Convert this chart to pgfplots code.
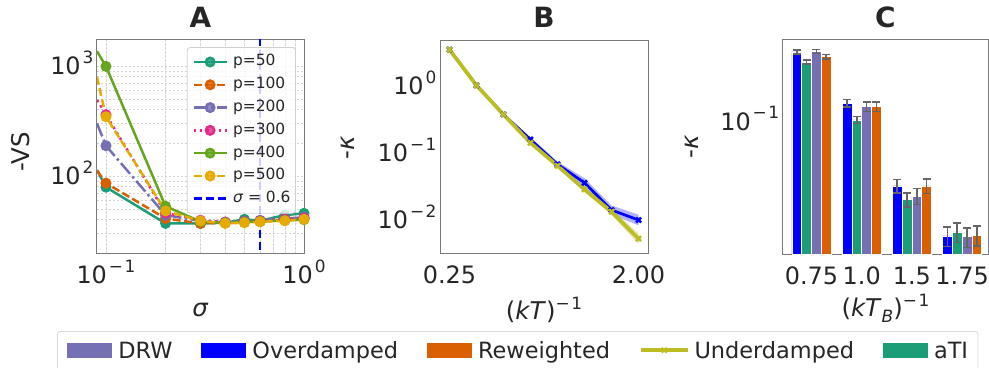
\documentclass[border=0pt]{standalone}
\usepackage{fontspec}
\setmainfont{DejaVu Sans}
\usepackage{pgfplots}
\pgfplotsset{compat=1.18}
\definecolor{cteal}{HTML}{1B9E77}
\definecolor{corange}{HTML}{D95F02}
\definecolor{cpurple}{HTML}{7570B3}
\definecolor{cpink}{HTML}{E7298A}
\definecolor{cgreen}{HTML}{66A61E}
\definecolor{cyellow}{HTML}{E6AB02}
\definecolor{colive}{HTML}{BCBD22}
\definecolor{cblue}{HTML}{0000FF}
\definecolor{ctext}{HTML}{262626}
\definecolor{cspine}{HTML}{7A7A7A}
\definecolor{cerr}{HTML}{656565}
\definecolor{cgrid}{HTML}{D4D4D4}
\newcommand\tp[1]{10\hspace{2bp}\raisebox{11.5bp}{\fontsize{17}{17}\selectfont #1}}
\newcommand\mo{−\hspace{1.5bp}}
\newcommand\legpatch[1]{\textcolor{#1}{\rule[0.6bp]{45bp}{15.2bp}}\hspace{6bp}}
\pgfplotsset{
  panel/.style={
    scale only axis, anchor=south west,
    axis line style={cspine, line width=1bp},
    tick style={draw=none},
    tick label style={font=\fontsize{24}{24}\selectfont, text=ctext},
    xticklabel style={anchor=base, yshift=-30bp},
    yticklabel style={anchor=base east, yshift=-8.75bp},
    label style={font=\fontsize{24.5}{24.5}\selectfont, text=ctext},
    title style={font=\fontsize{28}{28}\selectfont\bfseries, text=ctext, at={(0.5,1)}, anchor=base, yshift=6.7bp},
  },
  errbar/.style={draw=none, mark=none, forget plot,
    error bars/y dir=both, error bars/y explicit,
    error bars/error bar style={draw=cerr, line width=1.5bp},
    error bars/error mark options={draw=cerr, line width=1.5bp, mark size=4bp, rotate=90}},
  bars/.style={ybar, bar width=0.195, draw=white, line width=0.7bp},
}
\begin{document}
\begin{tikzpicture}
\useasboundingbox (0,0) rectangle (989bp,368bp);
% ---------------- Panel A ----------------
\begin{axis}[panel,
  at={(97bp,114bp)}, width=207bp, height=214bp,
  title={A},
  xmode=log, ymode=log,
  xmin=0.0901, xmax=1.0, ymin=19.5, ymax=1720,
  xtick={0.1,1}, xticklabels={\tp{\mo1},\tp{0}},
  ytick={100,1000}, yticklabels={\tp{2},\tp{3}},
  minor xtick={0.2,0.3,0.4,0.5,0.6,0.7,0.8,0.9},
  minor ytick={20,30,40,50,60,70,80,90,200,300,400,500,600,700,800,900},
  grid=both,
  major grid style={draw=cgrid, line width=0.6bp, dash pattern=on 2.5bp off 1.5bp},
  minor grid style={draw=cgrid, line width=0.5bp, dash pattern=on 2.5bp off 1.5bp},
  xlabel={\textit{σ}}, ylabel={-VS},
  xlabel style={at={(axis description cs:0.5,-0.290)}, anchor=base},
  ylabel style={at={(axis description cs:-0.367,0.477)}, anchor=center},
  legend image code/.code={\draw[#1, mark repeat=2, mark phase=2] plot coordinates {(0bp,0bp) (16.5bp,0bp) (33bp,0bp)};},
  legend style={at={(0.961,0.967)}, anchor=north east, font=\fontsize{15.5}{15.5}\selectfont,
    fill=white, fill opacity=0.8, text opacity=1, draw=black!18, draw opacity=1, line width=0.8bp,
    rounded corners=3bp, inner xsep=5bp, inner ysep=7.5bp, row sep=8.8bp,
    nodes={inner sep=0pt, text height=11bp, text depth=3bp, text=ctext},
    /tikz/every odd column/.style={column sep=5bp}},
  legend cell align=left,
  every axis plot/.append style={line width=2.5bp, mark=*, mark size=4.2bp, mark phase=2, mark repeat=1},
]
\addplot[cteal, mark options={solid, fill=cteal}] coordinates {
(0.0901,113) (0.1,79) (0.2,37) (0.3,37) (0.4,37.5) (0.5,40.3) (0.6,39.1) (0.8,44.0) (1.0,45.7)};
\addlegendentry{p=50}
\addplot[corange, dash pattern=on 8bp off 3.5bp, mark options={solid, fill=corange}] coordinates {
(0.0901,112) (0.1,86) (0.2,41) (0.3,37) (0.4,37.5) (0.5,38) (0.6,38.5) (0.8,40) (1.0,41)};
\addlegendentry{p=100}
\addplot[cpurple, dash pattern=on 14bp off 3.5bp on 2.5bp off 3.5bp, mark options={solid, fill=cpurple}] coordinates {
(0.0901,300) (0.1,188) (0.2,44) (0.3,39) (0.4,38) (0.5,38.5) (0.6,39.5) (0.8,41) (1.0,42)};
\addlegendentry{p=200}
\addplot[cpink, dash pattern=on 2.5bp off 3.8bp, mark options={solid, fill=cpink}] coordinates {
(0.0901,490) (0.1,360) (0.2,46) (0.3,39.5) (0.4,38) (0.5,38.5) (0.6,39) (0.8,40.5) (1.0,41.5)};
\addlegendentry{p=300}
\addplot[cgreen, mark options={solid, fill=cgreen}] coordinates {
(0.0901,1360) (0.1,990) (0.2,53) (0.3,38.5) (0.4,37.5) (0.5,38) (0.6,38.5) (0.8,39.5) (1.0,40)};
\addlegendentry{p=400}
\addplot[cyellow, dash pattern=on 8bp off 3.5bp, mark options={solid, fill=cyellow}] coordinates {
(0.0901,795) (0.1,345) (0.2,48) (0.3,39) (0.4,37) (0.5,37.5) (0.6,38.3) (0.8,39) (1.0,40.3)};
\addlegendentry{p=500}
\addplot[cblue, line width=2.8bp, dash pattern=on 8bp off 4bp, mark=none] coordinates {(0.6,10) (0.6,5000)};
\addlegendentry{\textit{σ} = 0.6}
\end{axis}
% ---------------- Panel B ----------------
\begin{axis}[panel,
  at={(440bp,114.7bp)}, width=208bp, height=213bp,
  title={B},
  ymode=log,
  xmin=0.1625, xmax=2.0875, ymin=0.00318, ymax=4.86,
  xtick={0.25,2}, xticklabels={0.25,2.00},
  ytick={0.01,0.1,1}, yticklabels={\tp{\mo2},\tp{\mo1},\tp{0}},
  xlabel={(\textit{kT})\raisebox{0.42em}{\fontsize{17}{17}\selectfont\mo1}}, ylabel={-\textit{κ}},
  xlabel style={at={(axis description cs:0.5,-0.313)}, anchor=base},
  ylabel style={at={(axis description cs:-0.442,0.494)}, anchor=center},
]
\addplot[draw=none, fill=cblue, fill opacity=0.3, forget plot] coordinates {
(0.25,3.71) (0.5,1.08) (0.75,0.397) (1.0,0.171) (1.25,0.0748) (1.5,0.0421) (1.75,0.0165) (2.0,0.0120)
(2.0,0.00833) (1.75,0.0121) (1.5,0.0308) (1.25,0.0618) (1.0,0.150) (0.75,0.360) (0.5,0.98) (0.25,3.36)};
\addplot[draw=none, fill=colive, fill opacity=0.35, forget plot] coordinates {
(0.25,3.71) (0.5,1.08) (0.75,0.397) (1.0,0.150) (1.25,0.0690) (1.5,0.0316) (1.75,0.0149) (2.0,0.0063)
(2.0,0.00438) (1.75,0.0119) (1.5,0.0261) (1.25,0.0605) (1.0,0.135) (0.75,0.360) (0.5,0.98) (0.25,3.36)};
\addplot[cblue, line width=2.7bp, mark=x, mark size=3.5bp, mark options={line width=2.5bp}] coordinates {
(0.25,3.53) (0.5,1.03) (0.75,0.378) (1.0,0.160) (1.25,0.068) (1.5,0.0360) (1.75,0.0141) (2.0,0.0100)};
\addplot[colive, line width=3.7bp, mark=x, mark size=3.5bp, mark options={line width=2.5bp}] coordinates {
(0.25,3.53) (0.5,1.03) (0.75,0.378) (1.0,0.1425) (1.25,0.0646) (1.5,0.0287) (1.75,0.0133) (2.0,0.00526)};
\end{axis}
% ---------------- Panel C ----------------
\begin{axis}[panel,
  at={(782.7bp,113.7bp)}, width=205.5bp, height=214.6bp,
  title={C},
  ymode=log, log origin=infty,
  xmin=-0.574, xmax=3.52, ymin=0.0102, ymax=0.41,
  xtick={0,1,2,3}, xticklabels={0.75,1.0,1.5,1.75},
  ytick={0.1}, yticklabels={\tp{\mo1}},
  xlabel={(\textit{kT}\raisebox{-0.22em}{\fontsize{17}{17}\selectfont\textit{B}})\raisebox{0.42em}{\fontsize{17}{17}\selectfont\mo1}},
  ylabel={-\textit{κ}},
  xlabel style={at={(axis description cs:0.5,-0.291)}, anchor=base},
  ylabel style={at={(axis description cs:-0.441,0.5)}, anchor=center},
]
% Overdamped, aTI, DRW, Reweighted
\addplot[bars, fill=cblue, bar shift=-0.2925] coordinates {(0,0.332) (1,0.1377) (2,0.0331) (3,0.0140)};
\addplot[bars, fill=cteal, bar shift=-0.0975] coordinates {(0,0.279) (1,0.1031) (2,0.0262) (3,0.0150)};
\addplot[bars, fill=cpurple, bar shift=0.0975] coordinates {(0,0.335) (1,0.1297) (2,0.0278) (3,0.0138)};
\addplot[bars, fill=corange, bar shift=0.2925] coordinates {(0,0.306) (1,0.1297) (2,0.0331) (3,0.0142)};
\addplot[errbar] coordinates {
(-0.2925,0.332) +- (0,0.0116) (0.7075,0.1377) +- (0,0.0085) (1.7075,0.0331) +- (0,0.0038) (2.7075,0.0140) +- (0,0.0023)};
\addplot[errbar] coordinates {
(-0.0975,0.279) +- (0,0.0098) (0.9025,0.1031) +- (0,0.0064) (1.9025,0.0262) +- (0,0.0032) (2.9025,0.0150) +- (0,0.0025)};
\addplot[errbar] coordinates {
(0.0975,0.335) +- (0,0.0116) (1.0975,0.1297) +- (0,0.0105) (2.0975,0.0278) +- (0,0.0038) (3.0975,0.0138) +- (0,0.0023)};
\addplot[errbar] coordinates {
(0.2925,0.306) +- (0,0.0107) (1.2925,0.1297) +- (0,0.0105) (2.2925,0.0331) +- (0,0.0041) (3.2925,0.0142) +- (0,0.0024)};
\end{axis}
% ---------------- Shared legend ----------------
\begin{axis}[
  at={(57bp,37bp)}, anchor=south west, scale only axis, width=10bp, height=10bp,
  hide axis, xmin=0, xmax=1, ymin=0, ymax=1,
  legend columns=5,
  legend image code/.code={},
  legend style={at={(0,0)}, anchor=north west, font=\fontsize{22.5}{22.5}\selectfont,
    fill=white, draw=black!15, line width=0.8bp, rounded corners=3bp,
    inner xsep=10bp, inner ysep=10bp,
    nodes={inner sep=0pt, text height=17bp, text depth=5bp, text=ctext},
    /tikz/every odd column/.style={column sep=0bp},
    /tikz/every even column/.style={column sep=29bp}},
  legend cell align=left,
]
\addlegendimage{empty legend}
\addlegendentry{\legpatch{cpurple}DRW}
\addlegendimage{empty legend}
\addlegendentry{\legpatch{cblue}Overdamped}
\addlegendimage{empty legend}
\addlegendentry{\legpatch{corange}Reweighted}
\addlegendimage{empty legend}
\addlegendentry{\tikz[baseline=0pt]{\draw[colive, line width=3.5bp] (0bp,8.2bp) -- (47bp,8.2bp);
  \draw[colive, line width=2bp] (21bp,5.7bp) -- (26bp,10.7bp) (21bp,10.7bp) -- (26bp,5.7bp);}\hspace{5bp}Underdamped}
\addlegendimage{empty legend}
\addlegendentry{\legpatch{cteal}aTI}
\end{axis}
\end{tikzpicture}
\end{document}
